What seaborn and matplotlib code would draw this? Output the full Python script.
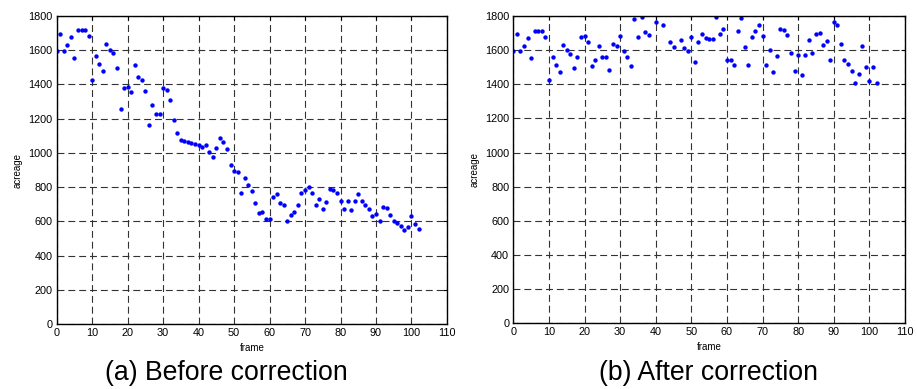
import numpy as np
import pandas as pd
import matplotlib
matplotlib.use("Agg")
import matplotlib.pyplot as plt
import seaborn as sns

# frames 0..102
frames = list(range(103))

# acreage before correction
before = [1595, 1695, 1596, 1629, 1676, 1553, 1716, 1716, 1716, 1680,
          1427, 1565, 1517, 1476, 1633, 1602, 1581, 1497, 1258, 1381,
          1386, 1353, 1513, 1445, 1427, 1361, 1163, 1282, 1227, 1227,
          1381, 1365, 1307, 1190, 1113, 1074, 1068, 1062, 1056, 1050,
          1047, 1037, 1043, 1006, 973, 1027, 1085, 1064, 1021, 927,
          895, 889, 768, 851, 811, 778, 706, 648, 654, 612,
          612, 741, 762, 706, 695, 602, 637, 654, 695, 768,
          783, 801, 768, 695, 731, 673, 716, 789, 783, 768,
          722, 673, 722, 668, 722, 762, 722, 695, 673, 631,
          641, 602, 685, 679, 637, 602, 592, 575, 548, 569,
          633, 585, 554]

# acreage after correction (nan = above the 1800 limit, not visible)
after = [1592, 1693, 1592, 1625, 1672, 1551, 1713, 1713, 1713, 1678,
         1427, 1561, 1515, 1474, 1631, 1598, 1579, 1493, 1557, 1678,
         1684, 1650, 1509, 1542, 1625, 1557, 1561, 1483, 1637, 1625,
         1684, 1592, 1557, 1505, 1783, 1678, 1794, 1705, 1687, np.nan,
         1765, np.nan, 1746, np.nan, 1650, 1616, np.nan, 1662, 1610, 1594,
         1678, 1532, 1650, 1693, 1672, 1666, 1666, 1794, 1697, 1721,
         1540, 1540, 1515, 1714, 1786, 1619, 1515, 1678, 1714, 1746,
         1684, 1511, 1598, 1470, 1565, 1724, 1718, 1689, 1583, 1476,
         1573, 1453, 1573, 1662, 1583, 1693, 1703, 1631, 1656, 1540,
         1765, 1746, 1637, 1540, 1520, 1476, 1406, 1459, 1627, 1501,
         1422, 1501, 1406]

captions = ["(a) Before correction", "(b) After correction"]

df = pd.DataFrame({"frame": frames, "before": before, "after": after})

sns.set_theme(style="white")
plt.rcParams["font.family"] = ["Liberation Sans", "DejaVu Sans"]
plt.rcParams["lines.scale_dashes"] = False
plt.rcParams["text.color"] = "black"
plt.rcParams["axes.labelcolor"] = "black"

fig = plt.figure(figsize=(9.17, 3.89), dpi=100)
ax1 = fig.add_axes([0.0618, 0.1663, 0.4256, 0.7933])
ax2 = fig.add_axes([0.5598, 0.1689, 0.4271, 0.7900])

# caption centres (the left one sits a bit left of its axes)
cap_x = [0.247, 0.773]

for ax, col, cap, cx in [(ax1, "before", captions[0], cap_x[0]),
                         (ax2, "after", captions[1], cap_x[1])]:
    sns.scatterplot(data=df, x="frame", y=col, ax=ax, color="#0000ff",
                    s=10, linewidth=0)
    ax.set_xlim(0, 110)
    ax.set_ylim(0, 1800)
    ax.set_xticks(range(0, 111, 10))
    ax.set_yticks(range(0, 1801, 200))
    ax.grid(True, color="#333333", linewidth=0.8, linestyle=(0, (5, 2.8)))
    ax.set_axisbelow(True)
    ax.tick_params(direction="in", length=3, width=0.8, labelsize=7.8,
                   top=True, right=True, pad=3, colors="black")
    for s in ax.spines.values():
        s.set_color("black")
        s.set_linewidth(1.0)
    ax.set_xlabel("frame", fontsize=7, labelpad=3)
    ax.set_ylabel("acreage", fontsize=7, labelpad=4)
    fig.text(cx, 0.04, cap, ha="center", va="center", fontsize=19.2,
             color="black")

fig.savefig("out.png", dpi=100)
